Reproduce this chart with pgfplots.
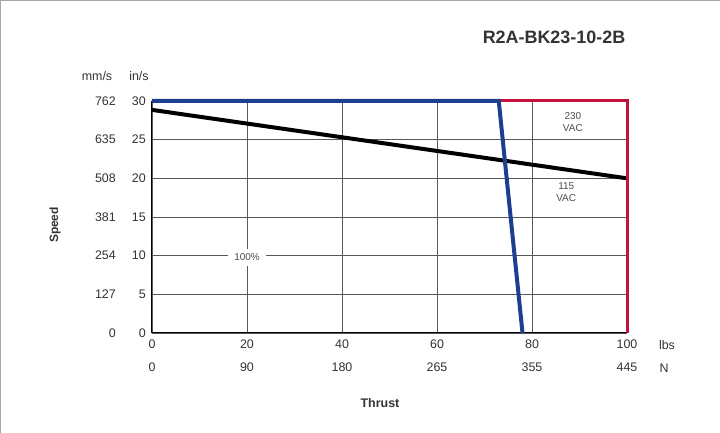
\documentclass[border=0pt]{standalone}
\usepackage{pgfplots}
\pgfplotsset{compat=1.18}
\usepackage{fontspec}
\setmainfont{Liberation Sans}
\definecolor{bblue}{HTML}{1E3F8F}
\definecolor{rred}{HTML}{C4123E}
\definecolor{txt}{HTML}{333333}
\begin{document}
\begin{tikzpicture}[x=1bp,y=1bp]
\useasboundingbox (-152,-100) rectangle (568,333);
\draw[gray!70, line width=1.2bp] (-151.4,-100) -- (-151.4,332.4) -- (568,332.4);
\begin{axis}[
  at={(0,0)}, anchor=south west,
  scale only axis, width=475bp, height=232bp,
  xmin=0, xmax=100, ymin=0, ymax=30,
  axis x line*=bottom, axis y line*=left,
  axis line style={black, line width=1bp},
  major tick length=0pt,
  grid=major,
  grid style={black!65, line width=0.9bp},
  xtick={0,20,40,60,80,100},
  xticklabels={{0\\0},{20\\90},{40\\180},{60\\265},{80\\355},{100\\445}},
  xticklabel style={align=center, anchor=north, inner sep=0pt, yshift=-7bp,
    font=\fontsize{12.5}{23}\selectfont, text=txt},
  ytick={0,5,10,15,20,25,30},
  yticklabels={
    {\makebox[30bp][r]{0}\makebox[30bp][r]{0}},
    {\makebox[30bp][r]{127}\makebox[30bp][r]{5}},
    {\makebox[30bp][r]{254}\makebox[30bp][r]{10}},
    {\makebox[30bp][r]{381}\makebox[30bp][r]{15}},
    {\makebox[30bp][r]{508}\makebox[30bp][r]{20}},
    {\makebox[30bp][r]{635}\makebox[30bp][r]{25}},
    {\makebox[30bp][r]{762}\makebox[30bp][r]{30}}},
  yticklabel style={anchor=east, inner sep=0pt, xshift=-6bp,
    font=\fontsize{12.5}{15}\selectfont, text=txt},
  clip=false,
]
\addplot[black, line width=4bp] coordinates {(0,28.85) (100,20)};
\addplot[rred, line width=3bp] coordinates {(73,30) (100,30) (100,0)};
\addplot[bblue, line width=4bp] coordinates {(0,30) (73,30) (78,0)};
\node[font=\fontsize{10}{12}\selectfont, fill=white, inner xsep=6bp, inner ysep=5bp, text=black!70] at (axis cs:20,9.8) {100\%};
\node[font=\fontsize{10}{11.5}\selectfont, fill=white, align=center, inner xsep=6bp, inner ysep=4bp, text=black!70] at (axis cs:87.2,18.2) {115\\VAC};
\node[font=\fontsize{10}{11.5}\selectfont, align=center, inner sep=1bp, text=black!70] at (axis cs:88.6,27.3) {230\\VAC};
\end{axis}
\node[font=\bfseries\fontsize{18}{21}\selectfont, text=txt] at (402,296) {R2A-BK23-10-2B};
\node[font=\bfseries\fontsize{12}{14}\selectfont, text=txt, rotate=90] at (-97,108) {Speed};
\node[font=\bfseries\fontsize{12.5}{15}\selectfont, text=txt] at (228,-70) {Thrust};
\node[font=\fontsize{12.5}{15}\selectfont, text=txt] at (-55,257) {mm/s};
\node[font=\fontsize{12.5}{15}\selectfont, text=txt] at (-13,257) {in/s};
\node[font=\fontsize{12.5}{15}\selectfont, text=txt] at (515,-12) {lbs};
\node[font=\fontsize{12.5}{15}\selectfont, text=txt] at (512,-35) {N};
\end{tikzpicture}
\end{document}
